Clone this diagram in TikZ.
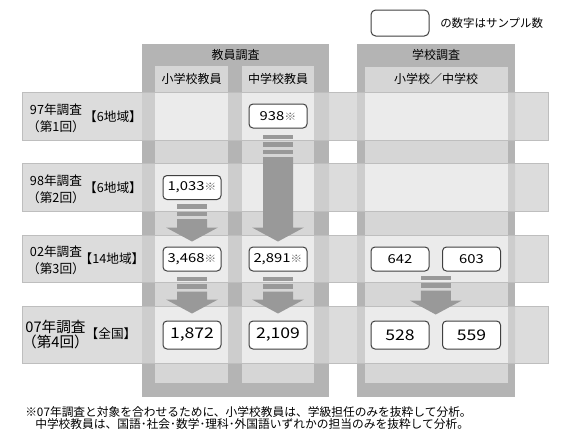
\documentclass[tikz,border=0pt]{standalone}
\usepackage{fontspec}
\setmainfont{Noto Sans CJK JP}
\newfontfamily\numfont[FakeStretch=1.2]{Noto Sans CJK JP}
\newfontfamily\halffont[RawFeature=+halt]{Noto Sans CJK JP}
\usetikzlibrary{calc}
\definecolor{outerc}{HTML}{B4B4B4}
\definecolor{innerc}{HTML}{D6D6D6}
\definecolor{rowc}{HTML}{DCDCDC}
\definecolor{outerrow}{HTML}{CDCDCD}
\definecolor{innerrow}{HTML}{EBEBEB}
\definecolor{rowline}{HTML}{BEBEBE}
\definecolor{arrowc}{HTML}{999999}
\newcommand{\kome}{{\color{black!60}\fontsize{7.5pt}{7.5pt}\selectfont ※}}
% striped block arrow: top point, tip point, number of bars
\newcommand{\bararrow}[3]{%
  \foreach \k in {1,...,#3}
    \fill[arrowc] ($(#1)+(-15,{(\k-1)*7.5})$) rectangle ++(30,4.5);
  \fill[arrowc] ($(#1)+(-15,{#3*7.5})$) -- ($(#2)+(-15,-14)$) -- ($(#2)+(-26,-14)$)
    -- (#2) -- ($(#2)+(26,-14)$) -- ($(#2)+(15,-14)$) -- ($(#1)+(15,{#3*7.5})$) -- cycle;
}

\begin{document}
\begin{tikzpicture}[x=0.75pt, y=-0.75pt,
  numbox/.style={draw=black!75, fill=white, rounded corners=3pt, line width=0.75pt,
                 minimum width=43.5pt, minimum height=18pt, inner sep=0pt,
                 font=\numfont\fontsize{9.25pt}{10pt}\selectfont},
  bignum/.style={numbox, minimum height=21pt, font=\numfont\fontsize{11pt}{12pt}\selectfont},
  head/.style={font=\fontsize{9pt}{10pt}\selectfont, inner sep=0pt},
  rowlab/.style={align=center, inner sep=0pt, font=\halffont\fontsize{9.5pt}{12.75pt}\selectfont},
  arealab/.style={inner sep=0pt, font=\halffont\fontsize{9.5pt}{10pt}\selectfont}]
  \useasboundingbox (0,0) rectangle (567,443);

  % legend
  \node[draw=black!75, fill=white, rounded corners=3.5pt, line width=0.75pt,
        minimum width=43.5pt, minimum height=19.5pt] (legbox) at (400,23) {};
  \node[anchor=west, inner sep=0pt, font=\fontsize{8.6pt}{10pt}\selectfont] (legtxt) at (440,23.5)
    {の数字はサンプル数};

  % survey columns
  \fill[outerc] (142,44) rectangle (329,397);
  \fill[outerc] (357,44) rectangle (515,397);
  \fill[innerc] (155,66) rectangle (228,383);
  \fill[innerc] (242,66) rectangle (314,383);
  \fill[innerc] (365,67) rectangle (508,383);

  % survey rows
  \foreach \t/\b in {92/140, 163/211, 235/282, 306/363}
    \fill[rowc] (22,\t) rectangle (548,\b);
  \begin{scope}
    \clip (22,92) rectangle (548,140) (22,163) rectangle (548,211)
          (22,235) rectangle (548,282) (22,306) rectangle (548,363);
    \fill[outerrow] (142,44) rectangle (329,397) (357,44) rectangle (515,397);
    \fill[innerrow] (155,66) rectangle (228,383);
    \fill[innerrow] (242,66) rectangle (314,383);
    \fill[innerrow] (365,67) rectangle (508,383);
  \end{scope}
  \foreach \t/\b in {92/140, 163/211, 235/282, 306/363}
    \draw[rowline, line width=0.75pt] (22,\t) rectangle (548,\b);

  % headers
  \node[head] (hteach) at (235.5,55) {教員調査};
  \node[head] (helem) at (191.5,79) {小学校教員};
  \node[head] (hjun) at (278,79) {中学校教員};
  \node[head] (hschool) at (436,55) {学校調査};
  \node[head] (hboth) at (436,79) {小学校／中学校};

  % row labels
  \node[rowlab] (r97) at (56,118) {97年調査\\（第1回）};
  \node[arealab] (a97) at (113,117) {【6地域】};
  \node[rowlab] (r98) at (56,189.5) {98年調査\\（第2回）};
  \node[arealab] (a98) at (113,188) {【6地域】};
  \node[rowlab] (r02) at (56,260) {02年調査\\（第3回）};
  \node[arealab] (a02) at (112,259) {【14地域】};
  \node[rowlab, font=\halffont\fontsize{11pt}{11.8pt}\selectfont] (r07) at (55.5,334.5)
    {07年調査\\（第4回）};
  \node[arealab] (a07) at (111,334) {【全国】};

  % sample sizes
  \node[numbox] (b97j) at (278,116) {938\kome};
  \node[numbox] (b98e) at (192,187.5) {1,033\kome};
  \node[numbox] (b02e) at (192,259) {3,468\kome};
  \node[numbox] (b02j) at (278,259) {2,891\kome};
  \node[numbox] (b02s1) at (400,259) {642};
  \node[numbox] (b02s2) at (471.5,259) {603};
  \node[bignum] (b07e) at (192,335) {1,872};
  \node[bignum] (b07j) at (278,335) {2,109};
  \node[bignum] (b07s1) at (400,335) {528};
  \node[bignum] (b07s2) at (471.5,335) {559};

  % arrows
  \coordinate (a1s) at ($(b97j.south)+(0,6)$);
  \coordinate (a1e) at ($(b02j.north)+(0,-5)$);
  \coordinate (a2s) at ($(b98e.south)+(0,4)$);
  \coordinate (a2e) at ($(b02e.north)+(0,-5)$);
  \coordinate (a3s) at ($(b02e.south)+(0,5)$);
  \coordinate (a3e) at ($(b07e.north)+(0,-7)$);
  \coordinate (a4s) at ($(b02j.south)+(0,5)$);
  \coordinate (a4e) at ($(b07j.north)+(0,-7)$);
  \coordinate (a5s) at ($(b02s1.south)!0.5!(b02s2.south)+(0,4)$);
  \coordinate (a5e) at ($(b07s1.north)!0.5!(b07s2.north)+(0,-6)$);
  \bararrow{a1s}{a1e}{3}
  \bararrow{a2s}{a2e}{2}
  \bararrow{a3s}{a3e}{2}
  \bararrow{a4s}{a4e}{2}
  \bararrow{a5s}{a5e}{2}

  % footnote
  \node[anchor=west, inner sep=0pt, font=\fontsize{8.8pt}{10pt}\selectfont] (note1) at (25,412)
    {※07年調査と対象を合わせるために、小学校教員は、学級担任のみを抜粋して分析。};
  \node[anchor=west, inner sep=0pt, font=\fontsize{8.8pt}{10pt}\selectfont] (note2) at (35,424.5)
    {中学校教員は、国語･社会･数学･理科･外国語いずれかの担当のみを抜粋して分析。};
\end{tikzpicture}
\end{document}
